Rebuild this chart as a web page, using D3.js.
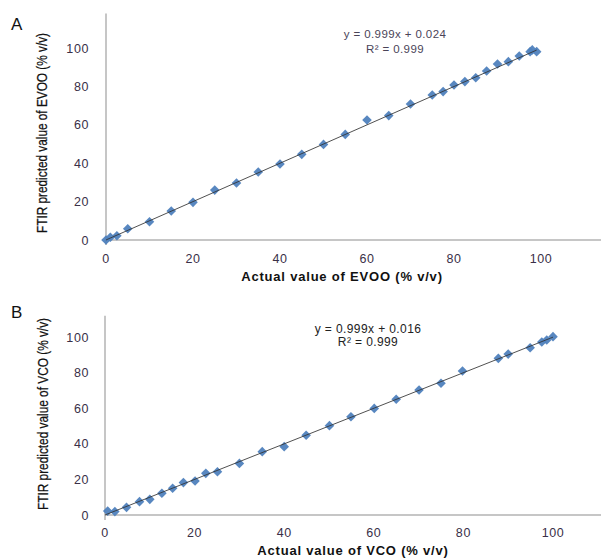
<!DOCTYPE html>
<html><head><meta charset="utf-8">
<script src="https://cdn.jsdelivr.net/npm/d3@7/dist/d3.min.js"></script>
<style>body{margin:0;background:#fff}svg{display:block}</style>
</head><body>
<script>
// Panel A: EVOO
const evooActual = [0,1,2.5,5,10,15,20,25,30,35,40,45,50,55,60,65,70,75,77.5,80,82.5,85,87.5,90,92.5,95,97.5,98,99];
const evooPred   = [0,1.4,2.2,5.9,9.5,15.1,19.6,26,29.7,35.4,39.6,44.6,49.8,55,62.5,64.8,70.8,75.5,77.3,80.7,82.5,84.5,88,91.7,92.9,95.8,98.1,99,98.1];
// Panel B: VCO
const vcoActual = [0.6,2.2,4.8,7.7,10,12.7,15.1,17.5,20.1,22.5,25.1,30,35.1,40,44.9,50.1,54.9,60.1,65,70.1,75,79.8,87.8,90,94.9,97.5,98.6,100];
const vcoPred   = [2.2,1.9,4.3,7.5,8.8,12.2,15,18.2,19.1,23.4,24.3,29,35.6,38.4,44.8,50.2,55.2,59.9,65,70.2,74,80.9,88,90.4,94,97.2,98.3,100.2];
const tickValues = [0,20,40,60,80,100];
const fitA = {slope:0.999, intercept:0.024, x0:0, x1:99};
const fitB = {slope:0.999, intercept:0.016, x0:0, x1:100};

const svg = d3.select("body").append("svg").attr("width",601).attr("height",558);

function panel(cfg){
  const g = svg.append("g");
  const x = d3.scaleLinear().domain([0,cfg.xMax]).range(cfg.xRange);
  const y = d3.scaleLinear().domain([0,cfg.yMax]).range(cfg.yRange);
  g.append("line").attr("x1",x(0)).attr("x2",x(cfg.xMax)).attr("y1",y(0)).attr("y2",y(0))
    .attr("stroke","#b3b3b3").attr("stroke-width",1.5);
  g.append("line").attr("x1",x(0)).attr("x2",x(0)).attr("y1",y(0)+5).attr("y2",y(cfg.yMax))
    .attr("stroke","#b3b3b3").attr("stroke-width",1.5);
  g.selectAll(".xt").data(tickValues).enter().append("text")
    .attr("x",d=>x(d)).attr("y",y(0)+cfg.xLabOff).attr("text-anchor","middle")
    .attr("font-family","Liberation Sans, Arial, sans-serif").attr("font-size",12.5).attr("fill","#3a3048")
    .attr("letter-spacing",0.6).text(d=>d);
  g.selectAll(".yt").data(tickValues).enter().append("text")
    .attr("x",89).attr("y",d=>y(d)+4.5).attr("text-anchor","end")
    .attr("font-family","Liberation Sans, Arial, sans-serif").attr("font-size",12.5).attr("fill","#3a3048")
    .attr("letter-spacing",0.6).text(d=>d);
  const fit = cfg.fit;
  const sym = d3.symbol().type(d3.symbolSquare).size(46);
  g.selectAll(".pt").data(cfg.xs.map((v,i)=>[v,cfg.ys[i]])).enter().append("path")
    .attr("d",sym).attr("fill","#4f81bd").attr("opacity",0.95)
    .attr("transform",d=>`translate(${x(d[0])},${y(d[1])}) rotate(45)`);
  g.append("line").attr("x1",x(fit.x0)).attr("y1",y(fit.slope*fit.x0+fit.intercept))
    .attr("x2",x(fit.x1)).attr("y2",y(fit.slope*fit.x1+fit.intercept))
    .attr("stroke","#333").attr("stroke-width",1).attr("opacity",0.85);
  g.append("text").attr("x",11).attr("y",cfg.letterY).attr("font-family","Liberation Sans, Arial, sans-serif")
    .attr("font-size",17).attr("fill","#111").text(cfg.letter);
  g.append("text").attr("transform",`translate(${cfg.yTitleX},${cfg.yTitleY}) rotate(-90)`)
    .attr("text-anchor","middle").attr("font-family","Liberation Sans Narrow, Liberation Sans, Arial, sans-serif")
    .attr("font-size",15).attr("fill","#111").attr("stroke","#111").attr("stroke-width",0.25)
    .attr("textLength",cfg.yTitleLen).attr("lengthAdjust","spacingAndGlyphs").text(cfg.yTitle);
  g.append("text").attr("x",cfg.xTitleX).attr("y",cfg.xTitleY).attr("text-anchor","middle")
    .attr("font-family","Liberation Sans, Arial, sans-serif").attr("font-weight","bold")
    .attr("font-size",13).attr("fill","#111").attr("letter-spacing",0.8).text(cfg.xTitle);
  cfg.eq.forEach((t,i)=>{
    g.append("text").attr("x",cfg.eqX).attr("y",cfg.eqY[i]).attr("text-anchor","middle")
      .attr("font-family","Liberation Sans, Arial, sans-serif").attr("font-size",cfg.eqSize)
      .attr("fill",cfg.eqColor).attr("letter-spacing",0.4).text(t);
  });
}

panel({xs:evooActual, ys:evooPred, fit:fitA,
  xMax:114, xRange:[106,106+114*4.35], yMax:118, yRange:[240,240-118*1.92],
  xLabOff:23, letter:"A", letterY:30,
  yTitle:"FTIR predicted value of EVOO (% v/v)", yTitleX:47, yTitleY:133, yTitleLen:200,
  xTitle:"Actual value of EVOO (% v/v)", xTitleX:342, xTitleY:281,
  eq:["y = 0.999x + 0.024","R² = 0.999"], eqX:395, eqY:[38,53], eqSize:11.5, eqColor:"#4a4458"});

panel({xs:vcoActual, ys:vcoPred, fit:fitB,
  xMax:111, xRange:[105,105+111*4.48], yMax:112, yRange:[515,515-112*1.78],
  xLabOff:22, letter:"B", letterY:318,
  yTitle:"FTIR predicted value of VCO (% v/v)", yTitleX:48, yTitleY:414, yTitleLen:192,
  xTitle:"Actual value of VCO (% v/v)", xTitleX:353, xTitleY:555,
  eq:["y = 0.999x  + 0.016","R² = 0.999"], eqX:368, eqY:[333,346], eqSize:12, eqColor:"#222"});
</script>
</body></html>
